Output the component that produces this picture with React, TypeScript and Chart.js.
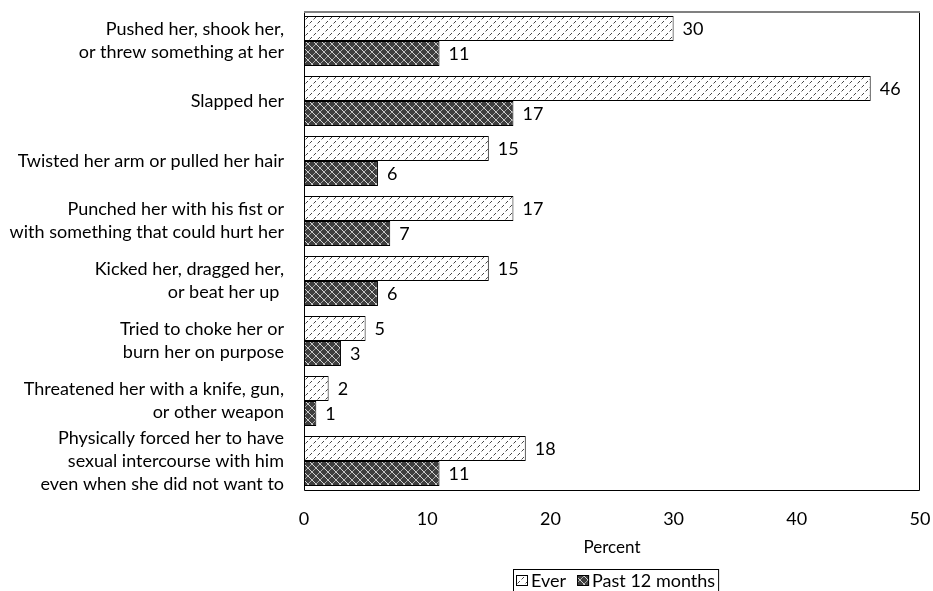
import React, { useEffect, useRef } from "react";
import { Chart, registerables } from "chart.js";

Chart.register(...registerables);

const categories: string[][] = [
  ["Pushed her, shook her,", "or threw something at her"],
  ["Slapped her"],
  ["Twisted her arm or pulled her hair"],
  ["Punched her with his fist or", "with something that could hurt her"],
  ["Kicked her, dragged her,", "or beat her up "],
  ["Tried to choke her or", "burn her on purpose"],
  ["Threatened her with a knife, gun,", "or other weapon"],
  ["Physically forced her to have", "sexual intercourse with him", "even when she did not want to"],
];
const everValues = [30, 46, 15, 17, 15, 5, 2, 18];
const pastValues = [11, 17, 6, 7, 6, 3, 1, 11];
const seriesNames = ["Ever", "Past 12 months"];
const xTicks = [0, 10, 20, 30, 40, 50];
const axisTitle = "Percent";

const FONT = "Lato";
const FS = 18;

function makeEverPattern(): CanvasPattern | string {
  const c = document.createElement("canvas");
  c.width = 8;
  c.height = 8;
  const g = c.getContext("2d");
  if (!g) return "#fff";
  g.fillStyle = "#ffffff";
  g.fillRect(0, 0, 8, 8);
  const px = (x: number, y: number, col: string) => {
    g.fillStyle = col;
    g.fillRect(x, y, 1, 1);
  };
  px(3, 1, "#444");
  px(2, 2, "#444");
  px(1, 3, "#aaa");
  px(7, 5, "#444");
  px(6, 6, "#444");
  px(5, 7, "#aaa");
  return g.createPattern(c, "repeat") || "#fff";
}

function makePastPattern(): CanvasPattern | string {
  const c = document.createElement("canvas");
  c.width = 8;
  c.height = 8;
  const g = c.getContext("2d");
  if (!g) return "#404040";
  g.fillStyle = "#3e3e3e";
  g.fillRect(0, 0, 8, 8);
  for (let x = 0; x < 8; x++) {
    for (let y = 0; y < 8; y++) {
      if (x === y || x + y === 7) {
        g.fillStyle = (x + y) % 2 === 0 ? "#d8d8d8" : "#a8a8a8";
        g.fillRect(x, y, 1, 1);
      }
    }
  }
  return g.createPattern(c, "repeat") || "#404040";
}

const framePlugin = {
  id: "frame",
  beforeDatasetsDraw(chart: any) {
    const { ctx, chartArea } = chart;
    const { left, right, top, bottom } = chartArea;
    ctx.save();
    ctx.strokeStyle = "#000";
    ctx.lineWidth = 1;
    ctx.beginPath();
    ctx.moveTo(left + 0.5, top);
    ctx.lineTo(left + 0.5, bottom - 0.5);
    ctx.lineTo(right - 0.5, bottom - 0.5);
    ctx.lineTo(right - 0.5, top);
    ctx.stroke();
    ctx.strokeStyle = "#808080";
    ctx.lineWidth = 2;
    ctx.beginPath();
    ctx.moveTo(left, top + 1);
    ctx.lineTo(right, top + 1);
    ctx.stroke();
    ctx.restore();
  },
};

const valueLabelPlugin = {
  id: "valueLabels",
  afterDatasetsDraw(chart: any) {
    const { ctx } = chart;
    ctx.save();
    ctx.font = `${FS}px ${FONT}`;
    ctx.fillStyle = "#000";
    ctx.textAlign = "left";
    ctx.textBaseline = "middle";
    chart.data.datasets.forEach((ds: any, di: number) => {
      const meta = chart.getDatasetMeta(di);
      meta.data.forEach((bar: any, i: number) => {
        ctx.fillText(String(ds.data[i]), bar.x + 9, bar.y + 1);
      });
    });
    ctx.restore();
  },
};

const legendPlugin = {
  id: "boxLegend",
  afterDraw(chart: any) {
    const { ctx, chartArea } = chart;
    ctx.save();
    ctx.font = `${FS}px ${FONT}`;
    const icon = 12;
    const gapIconText = 3;
    const gapItems = 11;
    const padX = 3;
    const items = chart.data.datasets.map((ds: any) => ({
      label: ds.label,
      fill: ds.backgroundColor,
      w: ctx.measureText(ds.label).width,
    }));
    let total = padX * 2;
    items.forEach((it: any, i: number) => {
      total += icon + gapIconText + it.w + (i < items.length - 1 ? gapItems : 0);
    });
    const boxLeft = Math.round(chartArea.left + (chartArea.width - total) / 2 + 4);
    const boxTop = chartArea.bottom + 78;
    const boxH = 26;
    ctx.strokeStyle = "#000";
    ctx.lineWidth = 1;
    ctx.strokeRect(boxLeft + 0.5, boxTop + 0.5, total, boxH);
    let x = boxLeft + padX;
    const cy = boxTop + 11;
    items.forEach((it: any) => {
      ctx.fillStyle = it.fill;
      ctx.fillRect(x, cy - 5, icon, 11);
      ctx.strokeStyle = "#000";
      ctx.strokeRect(x + 0.5, cy - 5 + 0.5, icon - 1, 10);
      x += icon + gapIconText;
      ctx.fillStyle = "#000";
      ctx.textAlign = "left";
      ctx.textBaseline = "middle";
      ctx.fillText(it.label, x, cy + 1);
      x += it.w + gapItems;
    });
    ctx.restore();
  },
};

const zeroPad = (s: any) => {
  s.paddingTop = 0;
  s.paddingBottom = 0;
  s.paddingLeft = 0;
  s.paddingRight = 0;
};

export default function App() {
  const ref = useRef<HTMLCanvasElement | null>(null);
  useEffect(() => {
    if (!ref.current) return;
    const chart = new Chart(ref.current, {
      type: "bar",
      data: {
        labels: categories,
        datasets: [
          {
            label: seriesNames[0],
            data: everValues,
            backgroundColor: makeEverPattern() as any,
            borderColor: "#000",
            borderWidth: 1,
            borderSkipped: false,
            categoryPercentage: 50 / 60,
            barPercentage: 1,
          },
          {
            label: seriesNames[1],
            data: pastValues,
            backgroundColor: makePastPattern() as any,
            borderColor: "#000",
            borderWidth: 1,
            borderSkipped: false,
            categoryPercentage: 50 / 60,
            barPercentage: 1,
          },
        ],
      },
      options: {
        indexAxis: "y",
        animation: false,
        responsive: false,
        maintainAspectRatio: false,
        layout: { autoPadding: false, padding: { top: 11, right: 13, left: 0, bottom: 0 } },
        plugins: {
          legend: { display: false },
          tooltip: { enabled: false },
        },
        scales: {
          x: {
            type: "linear",
            min: 0,
            max: 50,
            afterBuildTicks: (s: any) => {
              s.ticks = xTicks.map((v) => ({ value: v }));
            },
            afterFit: (s: any) => {
              s.height = 100;
              zeroPad(s);
            },
            grid: { display: false, drawTicks: false },
            border: { display: false },
            ticks: {
              padding: 17,
              color: "#000",
              font: { family: FONT, size: FS },
              maxRotation: 0,
            },
            title: {
              display: true,
              text: axisTitle,
              color: "#000",
              font: { family: FONT, size: FS - 1 },
              padding: { top: 0, bottom: 33 },
            },
          },
          y: {
            type: "category",
            afterFit: (s: any) => {
              s.width = 304;
              zeroPad(s);
            },
            grid: { display: false, drawTicks: false },
            border: { display: false },
            ticks: {
              padding: 20,
              color: "#000",
              font: { family: FONT, size: FS, lineHeight: 1.28 },
              autoSkip: false,
            },
          },
        },
      },
      plugins: [framePlugin, valueLabelPlugin, legendPlugin],
    });
    return () => chart.destroy();
  }, []);
  return (
    <div style={{ position: "fixed", left: 0, top: 0, width: 933, height: 591, background: "#fff" }}>
      <canvas ref={ref} width={933} height={591} style={{ display: "block" }} />
    </div>
  );
}
